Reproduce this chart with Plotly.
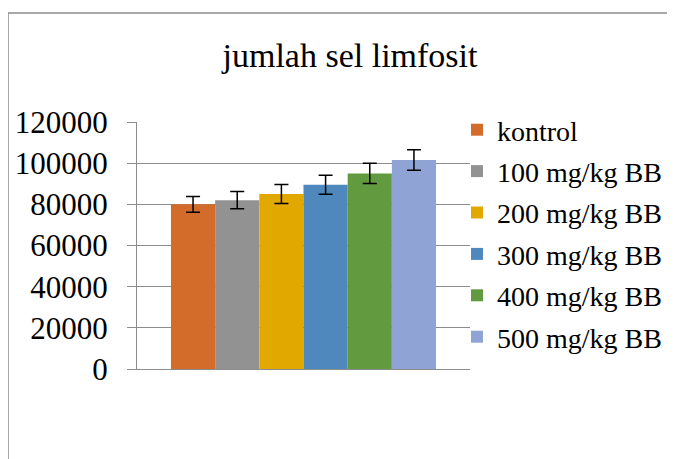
import plotly.graph_objects as go

series_names = ["kontrol", "100 mg/kg BB", "200 mg/kg BB", "300 mg/kg BB", "400 mg/kg BB", "500 mg/kg BB"]
values = [80000, 82000, 85000, 89500, 95000, 101500]
errors = [3800, 4200, 4600, 4600, 4900, 5000]
colors = ["#D36C2B", "#929292", "#E1A900", "#4F88BD", "#629A3F", "#8FA4D5"]
y_ticks = [0, 20000, 40000, 60000, 80000, 100000, 120000]

FONT = "'Liberation Serif', Tinos, 'Times New Roman', 'DejaVu Serif', 'Noto Serif', serif"

fig = go.Figure()
for i, (name, v, e, c) in enumerate(zip(series_names, values, errors, colors)):
    fig.add_trace(go.Bar(
        x=[0], y=[v], name=name, legendgroup="g%d" % i,
        marker=dict(color=c, line=dict(width=0)),
        error_y=dict(type="data", array=[e], visible=True, color="#000000", thickness=1.5, width=7),
    ))

# page body has an 8px margin: figure px = screen px - 8
OFF = 8
W, H = 675 - OFF, 459 - OFF
L, R, T, B = 137 - OFF, 470 - OFF, 122 - OFF, 369 - OFF
pw, ph = R - L, B - T

def px_x(p):
    return (p - OFF - L) / pw

def px_y(p):
    return (B - (p - OFF)) / ph

fig.update_layout(
    width=W, height=H,
    margin=dict(l=L, r=W - R, t=T, b=H - B, autoexpand=False),
    paper_bgcolor="white", plot_bgcolor="white",
    barmode="group", bargap=0.204, bargroupgap=0,
    font=dict(family=FONT, color="#000000"),
    title=dict(text="jumlah sel limfosit", x=(350 - OFF) / W, xref="container", xanchor="center",
               y=1 - (55 - OFF) / H, yref="container", yanchor="middle",
               font=dict(size=34, family=FONT, color="#000000")),
    showlegend=True,
    legend=dict(x=(457 - OFF) / W, xref="container", xanchor="left",
                y=1 - (105 - OFF) / H, yref="container", yanchor="top",
                maxheight=330,
                font=dict(size=28, family=FONT, color="#000000"),
                bgcolor="rgba(0,0,0,0)", tracegroupgap=2, itemclick=False, itemdoubleclick=False),
    xaxis=dict(range=[-0.5, 0.5], showticklabels=False, showgrid=False, zeroline=False,
               showline=True, linecolor="#8C8C8C", linewidth=1, ticks=""),
    yaxis=dict(range=[0, 120000], tickvals=y_ticks, ticktext=[str(t) for t in y_ticks],
               showgrid=True, gridcolor="#8C8C8C", gridwidth=1, zeroline=False,
               showline=True, linecolor="#8C8C8C", linewidth=1,
               ticks="outside", ticklen=9, tickcolor="#8C8C8C", tickwidth=1,
               ticklabelstandoff=13,
               tickfont=dict(size=31, family=FONT, color="#000000")),
    shapes=[dict(type="rect", xref="paper", yref="paper",
                 x0=px_x(8), x1=px_x(700), y0=px_y(480), y1=px_y(13),
                 line=dict(color="#8C8C8C", width=1.5), fillcolor="rgba(0,0,0,0)", layer="below")],
)

fig.write_html("out.html")
